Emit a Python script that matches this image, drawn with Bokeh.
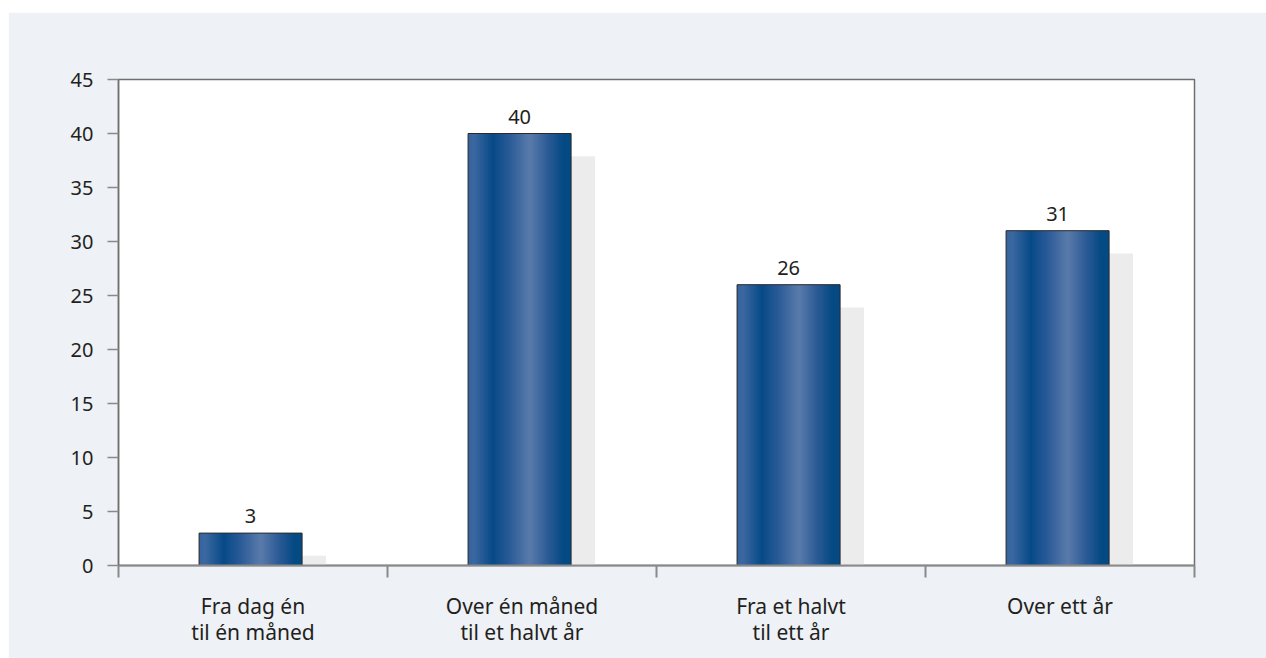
from bokeh.plotting import figure
from bokeh.models import Range1d, FixedTicker
from bokeh.core.properties import value
from bokeh.embed import file_html
from bokeh.resources import INLINE

# Share of respondents by duration (percent)
categories = ["Fra dag én\ntil én måned", "Over én måned\ntil et halvt år",
              "Fra et halvt\ntil ett år", "Over ett år"]
shares = [3, 40, 26, 31]
y_ticks = [0, 5, 10, 15, 20, 25, 30, 35, 40, 45]

FONT = "Noto Sans"
TEXT_COLOR = "#231f20"
PANEL = "#eef1f6"

p = figure(width=1258, height=646, x_range=Range1d(0, 4), y_range=Range1d(0, 45),
           output_backend="svg", toolbar_location=None, margin=(12, 0, 0, 8),
           background_fill_color="white", border_fill_color=PANEL,
           min_border_left=110, min_border_right=72, min_border_top=67,
           min_border_bottom=93, outline_line_color="#6f6f6f",
           outline_line_width=1.5)
p.xgrid.visible = False
p.ygrid.visible = False

# Bar geometry (data units along x; one category per unit)
bar_w = 0.383
bar_shift = -0.009
shadow_dx = 0.089   # about 24 px to the right
shadow_dy = 2.1     # about 23 px lower
centers = [i + 0.5 + bar_shift for i in range(len(categories))]

# Drop shadows behind each bar
p.quad(left=[c - bar_w / 2 + shadow_dx for c in centers],
       right=[c + bar_w / 2 + shadow_dx for c in centers],
       top=[max(v - shadow_dy, 0) for v in shares], bottom=[0] * len(shares),
       fill_color="#ececec", line_color=None)

# Horizontal cylinder-like shading made of thin vertical strips
stops = [(0.00, (0x36, 0x63, 0x9d)), (0.06, (0x3c, 0x68, 0xa1)),
         (0.24, (0x06, 0x4a, 0x87)), (0.40, (0x2a, 0x5b, 0x97)),
         (0.60, (0x5a, 0x7b, 0xab)), (0.78, (0x2a, 0x5a, 0x95)),
         (0.93, (0x03, 0x49, 0x83)), (1.00, (0x03, 0x49, 0x83))]


def shade(t):
    for (t0, c0), (t1, c1) in zip(stops[:-1], stops[1:]):
        if t0 <= t <= t1:
            f = (t - t0) / (t1 - t0) if t1 > t0 else 0
            r, g, b = (round(a + (b_ - a) * f) for a, b_ in zip(c0, c1))
            return "#%02x%02x%02x" % (r, g, b)
    return "#%02x%02x%02x" % stops[-1][1]


n_strips = 52
sl, sr, st, sb, sc = [], [], [], [], []
for c, v in zip(centers, shares):
    x0 = c - bar_w / 2
    step = bar_w / n_strips
    for k in range(n_strips):
        sl.append(x0 + step * k)
        # overlap neighbours slightly so no seams show between strips
        sr.append(min(x0 + step * (k + 1) + 0.003, x0 + bar_w))
        st.append(v)
        sb.append(0)
        sc.append(shade((k + 0.5) / n_strips))
p.quad(left=sl, right=sr, top=st, bottom=sb, fill_color=sc, line_color=None)

# Bar outlines
p.quad(left=[c - bar_w / 2 for c in centers], right=[c + bar_w / 2 for c in centers],
       top=shares, bottom=[0] * len(shares), fill_color=None,
       line_color="#2a2a2a", line_width=1)

# Value labels above the bars
p.text(x=centers, y=shares, text=[str(v) for v in shares], y_offset=-17,
       text_align="center", text_baseline="alphabetic",
       text_font=value(FONT), text_font_size="20px", text_color=TEXT_COLOR)

# X axis: labels centred in each category, tick marks at category boundaries
xa = p.xaxis[0]
xa.ticker = FixedTicker(ticks=[i + 0.5 for i in range(len(categories))],
                        minor_ticks=list(range(len(categories) + 1)))
xa.major_label_overrides = {i + 0.5: lab for i, lab in enumerate(categories)}
xa.major_tick_line_color = None
xa.major_tick_out = 0
xa.major_tick_in = 0
xa.minor_tick_out = 12
xa.minor_tick_in = 0
xa.minor_tick_line_color = "#8a8a8a"
xa.minor_tick_line_width = 2
xa.axis_line_color = "#8a8a8a"
xa.axis_line_width = 2
xa.major_label_standoff = 14
xa.major_label_text_font = FONT
xa.major_label_text_font_size = "21px"
xa.major_label_text_color = TEXT_COLOR
xa.major_label_text_line_height = 0.95

# Y axis
ya = p.yaxis[0]
ya.ticker = FixedTicker(ticks=y_ticks)
ya.major_tick_out = 11
ya.major_tick_in = 0
ya.minor_tick_line_color = None
ya.major_tick_line_color = "#8a8a8a"
ya.major_tick_line_width = 1.5
ya.axis_line_color = "#6f6f6f"
ya.axis_line_width = 1.5
ya.major_label_standoff = 14
ya.major_label_text_font = FONT
ya.major_label_text_font_size = "20px"
ya.major_label_text_color = TEXT_COLOR

open("out.html", "w").write(file_html(p, INLINE))
